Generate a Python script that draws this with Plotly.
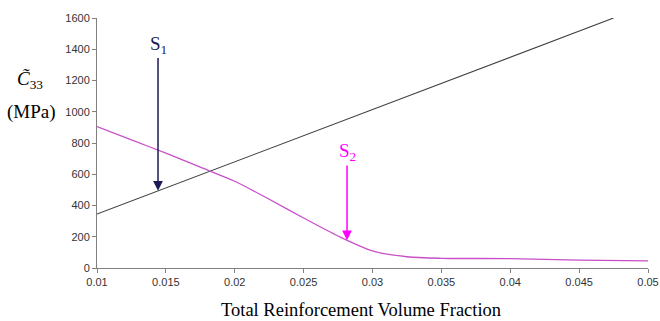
import plotly.graph_objects as go

# Data
line_x = [0.01, 0.0475]
line_y = [345, 1600]

curve_x = [0.01, 0.0125, 0.015, 0.0175, 0.02, 0.0225, 0.025, 0.0275, 0.03, 0.0325, 0.035, 0.04, 0.045, 0.05]
curve_y = [905, 820, 735, 645, 555, 440, 320, 205, 110, 72, 62, 60, 50, 45]

x_ticks = [0.01, 0.015, 0.02, 0.025, 0.03, 0.035, 0.04, 0.045, 0.05]
x_tick_text = ["0.01", "0.015", "0.02", "0.025", "0.03", "0.035", "0.04", "0.045", "0.05"]
y_ticks = [0, 200, 400, 600, 800, 1000, 1200, 1400, 1600]

s1_x, s1_label_y, s1_tip = 0.01443, 1430, 495
s2_x, s2_label_y, s2_tip = 0.02815, 742, 178

serif = "Liberation Serif, Times New Roman, serif"
sans = "Liberation Sans, Arial, sans-serif"

fig = go.Figure()
fig.add_trace(go.Scatter(x=line_x, y=line_y, mode="lines",
                         line=dict(color="#404040", width=1.1), showlegend=False))
fig.add_trace(go.Scatter(x=curve_x, y=curve_y, mode="lines",
                         line=dict(color="#c94fc9", width=1.3, shape="spline", smoothing=0.8),
                         showlegend=False))

# Labelled arrows (label sits at the arrow tail)
fig.add_annotation(x=s1_x, y=s1_tip, ax=s1_x, ay=s1_label_y, xref="x", yref="y", axref="x", ayref="y",
                   showarrow=True, arrowhead=2, arrowsize=1.3, arrowwidth=1.5, arrowcolor="#1a1a55",
                   text="S<sub>1</sub>", font=dict(family=serif, size=19, color="#1a1a55"))
fig.add_annotation(x=s2_x, y=s2_tip, ax=s2_x, ay=s2_label_y, xref="x", yref="y", axref="x", ayref="y",
                   showarrow=True, arrowhead=2, arrowsize=1.3, arrowwidth=1.5, arrowcolor="#ff00ff",
                   text="S<sub>2</sub>", font=dict(family=serif, size=19, color="#ff00ff"))

# Y axis title (two lines)
fig.add_annotation(x=-67/551, y=(268-80)/250, xref="paper", yref="paper", xanchor="center", yanchor="middle",
                   showarrow=False, text="<i>C&#771;</i><sub>33</sub>",
                   font=dict(family=serif, size=19, color="black"))
fig.add_annotation(x=-66/551, y=(268-112)/250, xref="paper", yref="paper", xanchor="center", yanchor="middle",
                   showarrow=False, text="(MPa)", font=dict(family=serif, size=19, color="black"))
# X axis title (bottom of its box on the window's bottom edge)
fig.add_annotation(x=(361-97)/551, y=(268-321)/250, xref="paper", yref="paper", xanchor="center", yanchor="bottom",
                   showarrow=False, text="Total Reinforcement Volume Fraction", borderpad=0,
                   font=dict(family=serif, size=18.5, color="black"))

fig.update_layout(
    width=660, height=321,
    margin=dict(l=97, r=12, t=18, b=53),
    plot_bgcolor="white", paper_bgcolor="white",
    xaxis=dict(range=[0.01, 0.05], tickvals=x_ticks, ticktext=x_tick_text, automargin=False,
               showgrid=False, zeroline=False, showline=True, linecolor="#808080", linewidth=1,
               ticks="outside", ticklen=4, tickcolor="#808080",
               tickfont=dict(family=sans, size=11, color="#333333")),
    yaxis=dict(range=[0, 1600], tickvals=y_ticks, automargin=False,
               showgrid=False, zeroline=False, showline=True, linecolor="#808080", linewidth=1,
               ticks="outside", ticklen=4, tickcolor="#808080",
               tickfont=dict(family=sans, size=11, color="#333333")),
)

# Remove the browser's default 8px body margin so the figure fills the 660x321 window exactly
fig.write_html("out.html", config={"displayModeBar": False},
               post_script="document.body.style.margin='0';document.body.style.overflow='hidden';")
